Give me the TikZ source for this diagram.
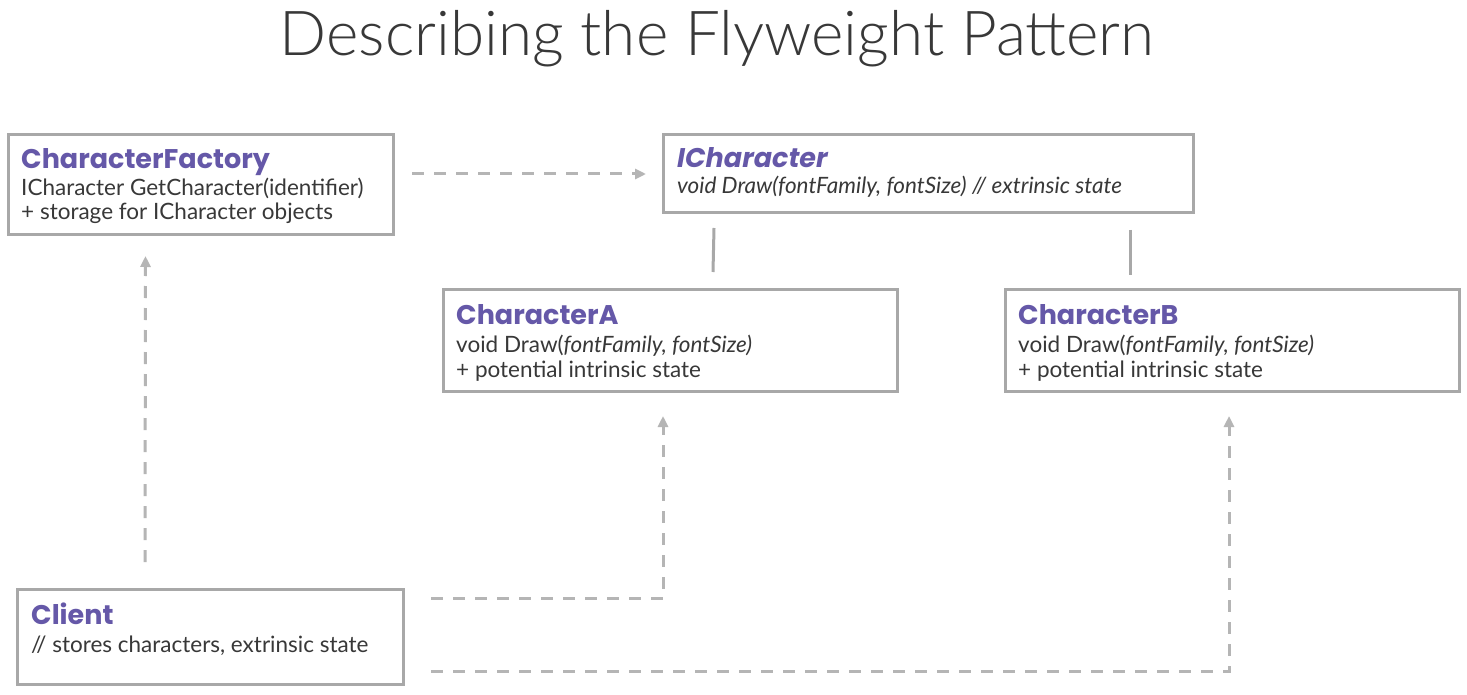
\documentclass[tikz,border=0pt]{standalone}
\usepackage{fontspec}
\setmainfont{Lato}
\newfontfamily\titlefont{Lato Light}
\newfontfamily\headfont{Poppins}
\usetikzlibrary{arrows.meta}
\definecolor{purp}{HTML}{6558A8}
\definecolor{boxgray}{HTML}{A8A8A8}
\definecolor{dashgray}{HTML}{B5B5B5}
\definecolor{txt}{HTML}{383838}
\begin{document}
\begin{tikzpicture}[x=1pt,y=-1pt,
  box/.style={draw=boxgray, line width=3pt, rectangle, inner sep=0pt, outer sep=0pt, anchor=north west},
  head/.style={anchor=base west, inner sep=0pt, text=purp, font=\headfont\fontsize{27}{30}\selectfont\bfseries},
  body/.style={anchor=base west, inner sep=0pt, text=txt, font=\fontsize{22.5}{26}\selectfont},
  dasharrow/.style={draw=dashgray, line width=3pt, dash pattern=on 12pt off 10pt, -{Triangle[length=11pt,width=10pt]}},
  solidline/.style={draw=boxgray, line width=3pt}
]
\useasboundingbox[fill=white] (0,0) rectangle (1467,695);

\node[anchor=base, inner sep=0pt, text=txt, font=\titlefont\fontsize{62}{66}\selectfont] (title) at (717,56) {Describing the Flyweight Pattern};

% boxes
\node[box, minimum width=385pt, minimum height=100pt] (cf) at (8,135) {};
\node[box, minimum width=530pt, minimum height=78pt] (ic) at (663,135) {};
\node[box, minimum width=454pt, minimum height=102pt] (ca) at (443,289) {};
\node[box, minimum width=454pt, minimum height=102pt] (cb) at (1005,289) {};
\node[box, minimum width=386pt, minimum height=95pt] (cl) at (17,589) {};

% texts
\node[head] (cfh) at (21,169) {CharacterFactory};
\node[body] (cf1) at (21,196) {ICharacter GetCharacter(identifier)};
\node[body] (cf2) at (21,220) {+ storage for ICharacter objects};

\node[head, text depth=0pt] (ich) at (677,168) {\itshape ICharacter};
\node[body] (ic1) at (677,194) {\itshape void Draw(fontFamily, fontSize) // extrinsic state};

\node[head] (cah) at (456,324) {CharacterA};
\node[body] (ca1) at (456,352) {void Draw(\textit{fontFamily, fontSize)}};
\node[body] (ca2) at (456,377) {+ potential intrinsic state};

\node[head] (cbh) at (1018,324) {CharacterB};
\node[body] (cb1) at (1018,352) {void Draw(\textit{fontFamily, fontSize)}};
\node[body] (cb2) at (1018,377) {+ potential intrinsic state};

\node[head] (clh) at (31,624) {Client};
\node[body] (cl1) at (31,652) {// stores characters, extrinsic state};

% connectors
\draw[dasharrow] ([xshift=19pt]cf.east |- ic.west) -- ([xshift=-17pt]ic.west);
\draw[dasharrow] ([xshift=-65pt,yshift=27pt]cl.north) -- ([xshift=-55pt,yshift=-21pt]cf.south);
\draw[dasharrow] ([xshift=28pt,yshift=38pt]cl.east) -| ([xshift=-7pt,yshift=-25pt]ca.south);
\draw[dasharrow] ([xshift=28pt,yshift=-35pt]cl.east) -| ([xshift=-3pt,yshift=-25pt]cb.south);
\draw[solidline] ([xshift=-214pt,yshift=-15pt]ic.south) -- ([xshift=43pt,yshift=17pt]ca.north);
\draw[solidline] ([xshift=202pt,yshift=-17pt]ic.south) -- ([xshift=-102pt,yshift=14pt]cb.north);
\end{tikzpicture}
\end{document}
